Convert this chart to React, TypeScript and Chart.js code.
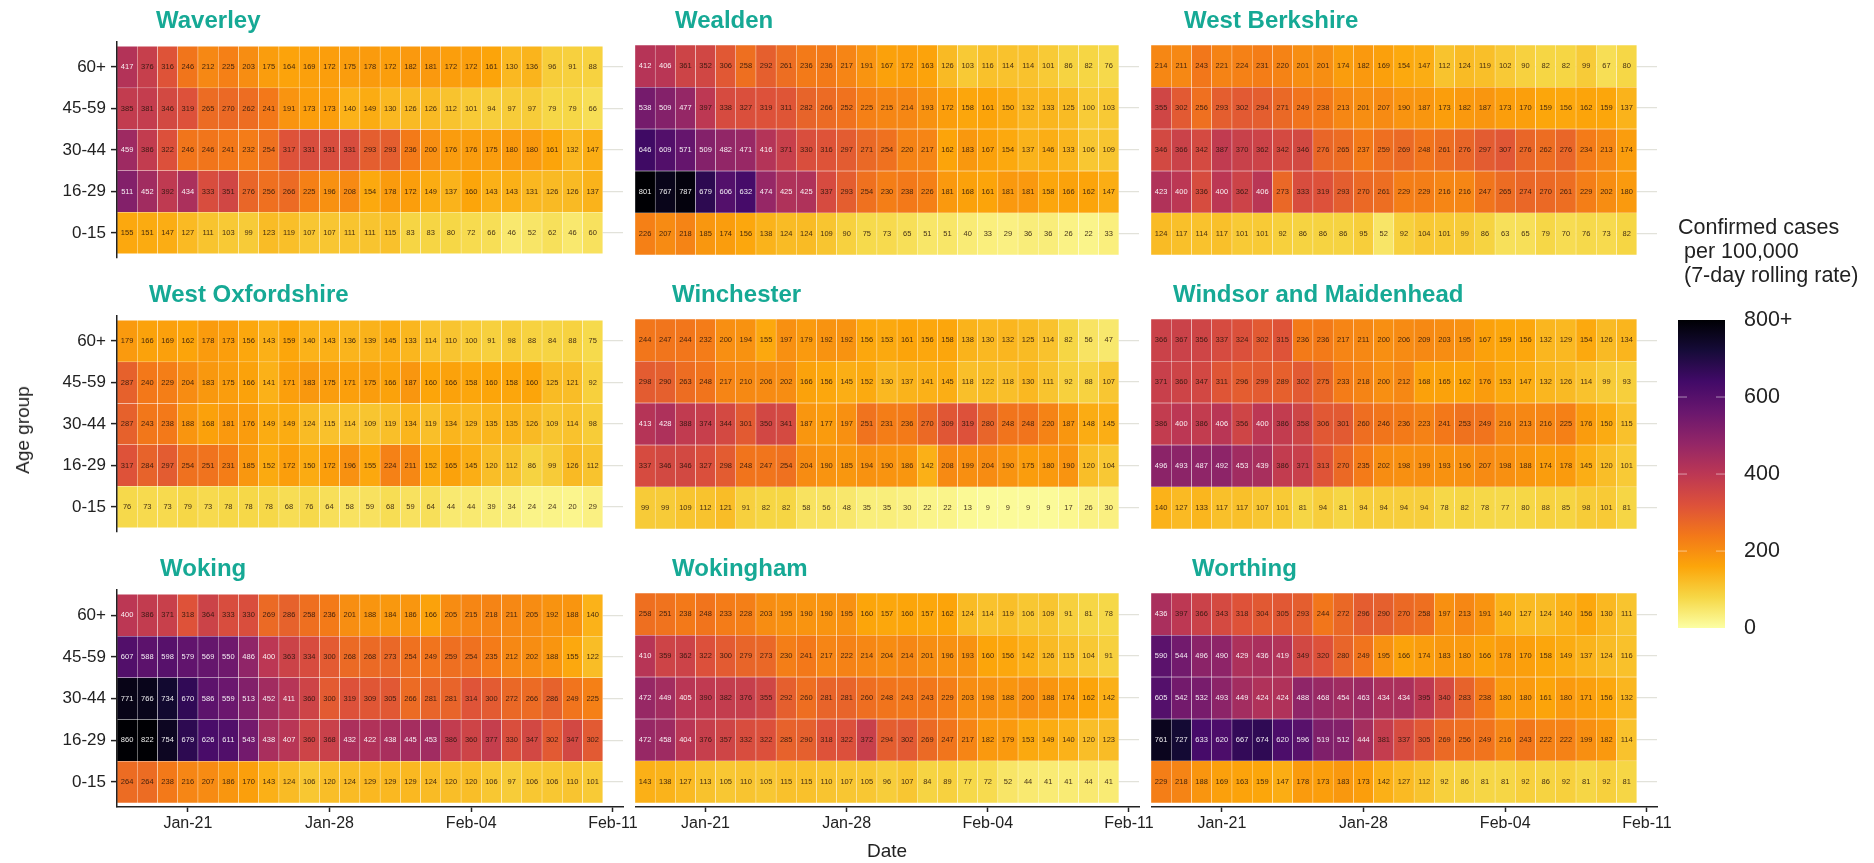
import React, { useEffect, useRef } from "react";
import { Chart, registerables } from "chart.js";

Chart.register(...registerables);

const FONT = "'Liberation Sans', Arial, sans-serif";
Chart.defaults.font.family = FONT;
Chart.defaults.color = "#222222";

const dates = [
  "Jan-18", "Jan-19", "Jan-20", "Jan-21", "Jan-22", "Jan-23", "Jan-24", "Jan-25", "Jan-26",
  "Jan-27", "Jan-28", "Jan-29", "Jan-30", "Jan-31", "Feb-01", "Feb-02", "Feb-03", "Feb-04",
  "Feb-05", "Feb-06", "Feb-07", "Feb-08", "Feb-09", "Feb-10", "Feb-11",
];
const dateTicks = ["Jan-21", "Jan-28", "Feb-04", "Feb-11"];
const ageGroups = ["60+", "45-59", "30-44", "16-29", "0-15"];
const legendTicks = [0, 200, 400, 600, 800];
const legendMarks = [200, 400, 600];
const legendTitle = ["Confirmed cases", " per 100,000", " (7-day rolling rate)"];

const waverley = [
  [417, 376, 316, 246, 212, 225, 203, 175, 164, 169, 172, 175, 178, 172, 182, 181, 172, 172, 161, 130, 136, 96, 91, 88],
  [385, 381, 346, 319, 265, 270, 262, 241, 191, 173, 173, 140, 149, 130, 126, 126, 112, 101, 94, 97, 97, 79, 79, 66],
  [459, 386, 322, 246, 246, 241, 232, 254, 317, 331, 331, 331, 293, 293, 236, 200, 176, 176, 175, 180, 180, 161, 132, 147],
  [511, 452, 392, 434, 333, 351, 276, 256, 266, 225, 196, 208, 154, 178, 172, 149, 137, 160, 143, 143, 131, 126, 126, 137],
  [155, 151, 147, 127, 111, 103, 99, 123, 119, 107, 107, 111, 111, 115, 83, 83, 80, 72, 66, 46, 52, 62, 46, 60],
];
const wealden = [
  [412, 406, 361, 352, 306, 258, 292, 261, 236, 236, 217, 191, 167, 172, 163, 126, 103, 116, 114, 114, 101, 86, 82, 76],
  [538, 509, 477, 397, 338, 327, 319, 311, 282, 266, 252, 225, 215, 214, 193, 172, 158, 161, 150, 132, 133, 125, 100, 103],
  [646, 609, 571, 509, 482, 471, 416, 371, 330, 316, 297, 271, 254, 220, 217, 162, 183, 167, 154, 137, 146, 133, 106, 109],
  [801, 767, 787, 679, 606, 632, 474, 425, 425, 337, 293, 254, 230, 238, 226, 181, 168, 161, 181, 181, 158, 166, 162, 147],
  [226, 207, 218, 185, 174, 156, 138, 124, 124, 109, 90, 75, 73, 65, 51, 51, 40, 33, 29, 36, 36, 26, 22, 33],
];
const westBerkshire = [
  [214, 211, 243, 221, 224, 231, 220, 201, 201, 174, 182, 169, 154, 147, 112, 124, 119, 102, 90, 82, 82, 99, 67, 80],
  [355, 302, 256, 293, 302, 294, 271, 249, 238, 213, 201, 207, 190, 187, 173, 182, 187, 173, 170, 159, 156, 162, 159, 137],
  [346, 366, 342, 387, 370, 362, 342, 346, 276, 265, 237, 259, 269, 248, 261, 276, 297, 307, 276, 262, 276, 234, 213, 174],
  [423, 400, 336, 400, 362, 406, 273, 333, 319, 293, 270, 261, 229, 229, 216, 216, 247, 265, 274, 270, 261, 229, 202, 180],
  [124, 117, 114, 117, 101, 101, 92, 86, 86, 86, 95, 52, 92, 104, 101, 99, 86, 63, 65, 79, 70, 76, 73, 82],
];
const westOxfordshire = [
  [179, 166, 169, 162, 178, 173, 156, 143, 159, 140, 143, 136, 139, 145, 133, 114, 110, 100, 91, 98, 88, 84, 88, 75],
  [287, 240, 229, 204, 183, 175, 166, 141, 171, 183, 175, 171, 175, 166, 187, 160, 166, 158, 160, 158, 160, 125, 121, 92],
  [287, 243, 238, 188, 168, 181, 176, 149, 149, 124, 115, 114, 109, 119, 134, 119, 134, 129, 135, 135, 126, 109, 114, 98],
  [317, 284, 297, 254, 251, 231, 185, 152, 172, 150, 172, 196, 155, 224, 211, 152, 165, 145, 120, 112, 86, 99, 126, 112],
  [76, 73, 73, 79, 73, 78, 78, 78, 68, 76, 64, 58, 59, 68, 59, 64, 44, 44, 39, 34, 24, 24, 20, 29],
];
const winchester = [
  [244, 247, 244, 232, 200, 194, 155, 197, 179, 192, 192, 156, 153, 161, 156, 158, 138, 130, 132, 125, 114, 82, 56, 47],
  [298, 290, 263, 248, 217, 210, 206, 202, 166, 156, 145, 152, 130, 137, 141, 145, 118, 122, 118, 130, 111, 92, 88, 107],
  [413, 428, 388, 374, 344, 301, 350, 341, 187, 177, 197, 251, 231, 236, 270, 309, 319, 280, 248, 248, 220, 187, 148, 145],
  [337, 346, 346, 327, 298, 248, 247, 254, 204, 190, 185, 194, 190, 186, 142, 208, 199, 204, 190, 175, 180, 190, 120, 104],
  [99, 99, 109, 112, 121, 91, 82, 82, 58, 56, 48, 35, 35, 30, 22, 22, 13, 9, 9, 9, 9, 17, 26, 30],
];
const windsorAndMaidenhead = [
  [366, 367, 356, 337, 324, 302, 315, 236, 236, 217, 211, 200, 206, 209, 203, 195, 167, 159, 156, 132, 129, 154, 126, 134],
  [371, 360, 347, 311, 296, 299, 289, 302, 275, 233, 218, 200, 212, 168, 165, 162, 176, 153, 147, 132, 126, 114, 99, 93],
  [386, 400, 386, 406, 356, 400, 386, 358, 306, 301, 260, 246, 236, 223, 241, 253, 249, 216, 213, 216, 225, 176, 150, 115],
  [496, 493, 487, 492, 453, 439, 386, 371, 313, 270, 235, 202, 198, 199, 193, 196, 207, 198, 188, 174, 178, 145, 120, 101],
  [140, 127, 133, 117, 117, 107, 101, 81, 94, 81, 94, 94, 94, 94, 78, 82, 78, 77, 80, 88, 85, 98, 101, 81],
];
const woking = [
  [400, 386, 371, 318, 364, 333, 330, 269, 286, 258, 236, 201, 188, 184, 186, 166, 205, 215, 218, 211, 205, 192, 188, 140],
  [607, 588, 598, 579, 569, 550, 486, 400, 363, 334, 300, 268, 268, 273, 254, 249, 259, 254, 235, 212, 202, 188, 155, 122],
  [771, 766, 734, 670, 586, 559, 513, 452, 411, 360, 300, 319, 309, 305, 266, 281, 281, 314, 300, 272, 266, 286, 249, 225],
  [860, 822, 754, 679, 626, 611, 543, 438, 407, 360, 368, 432, 422, 438, 445, 453, 386, 360, 377, 330, 347, 302, 347, 302],
  [264, 264, 238, 216, 207, 186, 170, 143, 124, 106, 120, 124, 129, 129, 129, 124, 120, 120, 106, 97, 106, 106, 110, 101],
];
const wokingham = [
  [258, 251, 238, 248, 233, 228, 203, 195, 190, 190, 195, 160, 157, 160, 157, 162, 124, 114, 119, 106, 109, 91, 81, 78],
  [410, 359, 362, 322, 300, 279, 273, 230, 241, 217, 222, 214, 204, 214, 201, 196, 193, 160, 156, 142, 126, 115, 104, 91],
  [472, 449, 405, 390, 382, 376, 355, 292, 260, 281, 281, 260, 248, 243, 243, 229, 203, 198, 188, 200, 188, 174, 162, 142],
  [472, 458, 404, 376, 357, 332, 322, 285, 290, 318, 322, 372, 294, 302, 269, 247, 217, 182, 179, 153, 149, 140, 120, 123],
  [143, 138, 127, 113, 105, 110, 105, 115, 115, 110, 107, 105, 96, 107, 84, 89, 77, 72, 52, 44, 41, 41, 44, 41],
];
const worthing = [
  [436, 397, 366, 343, 318, 304, 305, 293, 244, 272, 296, 290, 270, 258, 197, 213, 191, 140, 127, 124, 140, 156, 130, 111],
  [590, 544, 496, 490, 429, 436, 419, 349, 320, 280, 249, 195, 166, 174, 183, 180, 166, 178, 170, 158, 149, 137, 124, 116],
  [605, 542, 532, 493, 449, 424, 424, 488, 468, 454, 463, 434, 434, 395, 340, 283, 238, 180, 180, 161, 180, 171, 156, 132],
  [761, 727, 633, 620, 667, 674, 620, 596, 519, 512, 444, 381, 337, 305, 269, 256, 249, 216, 243, 222, 222, 199, 182, 114],
  [229, 218, 188, 169, 163, 159, 147, 178, 173, 183, 173, 142, 127, 112, 92, 86, 81, 81, 92, 86, 92, 81, 92, 81],
];

// inferno colour map, sampled every 10%, from value 800+ (black) down to 0 (pale yellow)
const inferno = [
  "#000004", "#160b39", "#420a68", "#6a176e", "#932667", "#bc3754",
  "#dd513a", "#f37819", "#fca50a", "#f6d746", "#fcffa4",
];

function hexRgb(h: string) {
  return [1, 3, 5].map((i) => parseInt(h.slice(i, i + 2), 16));
}
function colorFor(v: number) {
  const t = 1 - Math.min(Math.max(v, 0), 800) / 800;
  const p = t * (inferno.length - 1);
  const i = Math.min(Math.floor(p), inferno.length - 2);
  const a = hexRgb(inferno[i]);
  const b = hexRgb(inferno[i + 1]);
  const f = p - i;
  const c = a.map((x, k) => Math.round(x + (b[k] - x) * f));
  return `rgb(${c[0]},${c[1]},${c[2]})`;
}

const cellTextPlugin = {
  id: "cellText",
  afterDatasetsDraw(chart: any) {
    const ctx = chart.ctx;
    ctx.save();
    ctx.font = `7.5px ${FONT}`;
    ctx.textAlign = "center";
    ctx.textBaseline = "middle";
    chart.data.datasets.forEach((ds: any, di: number) => {
      chart.getDatasetMeta(di).data.forEach((el: any, i: number) => {
        const v = ds.values[i];
        const p = el.getProps(["x", "y", "base"], true);
        ctx.fillStyle = v >= 400 ? "rgba(255,255,255,0.92)" : "rgba(40,20,10,0.88)";
        ctx.fillText(String(v), p.x, (p.y + p.base) / 2);
      });
    });
    ctx.restore();
  },
};

type PanelProps = {
  rows: number[][];
  left: number;
  top: number;
  width: number;
  showY: boolean;
  showX: boolean;
  xTitle?: string;
};

const AREA_H = 218;
const Y_W = 117;
const X_H = 56;
const PAD_T = 14;
const PAD_R = 34;

function Panel({ rows, left, top, width, showY, showX, xTitle }: PanelProps) {
  const ref = useRef<HTMLCanvasElement>(null);
  const yw = showY ? Y_W : 0;
  const xh = showX ? X_H : 0;
  const padB = showX ? 1 : 14;
  const cw = yw + width + PAD_R;
  const ch = PAD_T + AREA_H + xh + padB;
  useEffect(() => {
    const chart = new Chart(ref.current as HTMLCanvasElement, {
      type: "bar",
      data: {
        labels: dates,
        datasets: rows.map((vals, r) => ({
          label: ageGroups[r],
          values: vals,
          data: vals.map(() => [r, r + 1]),
          backgroundColor: vals.map(colorFor),
          borderColor: "rgba(255,255,255,0.6)",
          borderWidth: 0.5,
          borderSkipped: false,
          grouped: false,
          barPercentage: 1,
          categoryPercentage: 1,
        })) as any,
      },
      plugins: [cellTextPlugin],
      options: {
        animation: false,
        responsive: false,
        events: [],
        layout: { padding: { top: PAD_T, right: PAD_R, bottom: padB, left: 0 } },
        plugins: { legend: { display: false }, tooltip: { enabled: false }, title: { display: false } },
        scales: {
          x: {
            type: "category",
            display: showX,
            offset: true,
            afterBuildTicks: (s: any) => {
              s.ticks = s.ticks.filter((t: any) => dateTicks.includes(dates[t.value]));
            },
            afterFit: (s: any) => {
              s.height = xh;
            },
            grid: { display: true, drawOnChartArea: false, drawTicks: true, tickLength: 5, offset: false, tickColor: "#222222", tickWidth: 1.5 },
            border: { display: true, color: "#222222", width: 1.5, z: 1 },
            ticks: { autoSkip: false, maxRotation: 0, minRotation: 0, padding: 2, color: "#222222", font: { size: 16 } },
            title: { display: !!xTitle, text: xTitle, color: "#222222", font: { size: 19 }, padding: 0 },
          },
          y: {
            type: "linear",
            reverse: true,
            min: -0.1,
            max: 5.1,
            afterBuildTicks: (s: any) => {
              s.ticks = ageGroups.map((_, i) => ({ value: i + 0.5 }));
            },
            afterFit: (s: any) => {
              s.width = yw;
            },
            grid: {
              display: true,
              color: "#e2e2da",
              lineWidth: 1.2,
              drawTicks: showY,
              tickLength: 6,
              tickColor: "#222222",
              tickWidth: 1.5,
            },
            border: { display: showY, color: "#222222", width: 1.5, z: 1 },
            ticks: {
              display: showY,
              padding: 5,
              color: "#222222",
              font: { size: 17 },
              callback: (v: any) => ageGroups[Number(v) - 0.5],
            },
          },
        },
      } as any,
    });
    return () => chart.destroy();
  }, []);
  return (
    <canvas
      ref={ref}
      width={cw}
      height={ch}
      style={{ position: "absolute", left: left - yw, top: top - PAD_T, width: cw, height: ch }}
    />
  );
}

const legendMarksPlugin = {
  id: "legendMarks",
  afterDatasetsDraw(chart: any) {
    const { ctx, chartArea, scales } = chart;
    ctx.save();
    ctx.strokeStyle = "rgba(255,255,255,0.5)";
    ctx.lineWidth = 1;
    legendMarks.forEach((v) => {
      const y = scales.y.getPixelForValue(v);
      ctx.beginPath();
      ctx.moveTo(chartArea.left, y);
      ctx.lineTo(chartArea.left + 9, y);
      ctx.moveTo(chartArea.right - 9, y);
      ctx.lineTo(chartArea.right, y);
      ctx.stroke();
    });
    ctx.restore();
  },
};

function ColorBar() {
  const ref = useRef<HTMLCanvasElement>(null);
  useEffect(() => {
    const chart = new Chart(ref.current as HTMLCanvasElement, {
      type: "bar",
      data: {
        labels: ["rate"],
        datasets: [
          {
            data: [[0, 800]],
            barPercentage: 1,
            categoryPercentage: 1,
            borderWidth: 0,
            backgroundColor: (c: any) => {
              const area = c.chart.chartArea;
              if (!area) return "#000";
              const g = c.chart.ctx.createLinearGradient(0, area.top, 0, area.bottom);
              inferno.forEach((col, i) => g.addColorStop(i / (inferno.length - 1), col));
              return g;
            },
          },
        ] as any,
      },
      plugins: [legendMarksPlugin],
      options: {
        animation: false,
        responsive: false,
        events: [],
        layout: { padding: { top: 0, left: 0, right: 0, bottom: 20 } },
        plugins: {
          legend: { display: false },
          tooltip: { enabled: false },
          title: {
            display: true,
            text: legendTitle,
            align: "start",
            color: "#222222",
            font: { size: 21.5, weight: "normal", lineHeight: 24 / 21.5 },
            padding: { top: 0, bottom: 32 },
          },
        },
        scales: {
          x: { display: false },
          y: {
            position: "right",
            min: 0,
            max: 800,
            afterBuildTicks: (s: any) => {
              s.ticks = legendTicks.map((value) => ({ value }));
            },
            afterFit: (s: any) => {
              s.width = 149;
            },
            grid: { display: false },
            border: { display: false },
            ticks: {
              padding: 11,
              color: "#222222",
              font: { size: 21.5 },
              callback: (v: any) => (Number(v) === 800 ? "800+" : String(v)),
            },
          },
        },
      } as any,
    });
    return () => chart.destroy();
  }, []);
  return (
    <canvas
      ref={ref}
      width={196}
      height={436}
      style={{ position: "absolute", left: 1678, top: 216, width: 196, height: 436 }}
    />
  );
}

const teal = "#16a995";
const colLeft = [117, 635, 1151];
const colWidth = [506, 504, 506];
const rowTop = [41, 315, 589];

const panels = [
  { name: "Waverley", rows: waverley, titleX: 156, titleY: 6 },
  { name: "Wealden", rows: wealden, titleX: 675, titleY: 6 },
  { name: "West Berkshire", rows: westBerkshire, titleX: 1184, titleY: 6 },
  { name: "West Oxfordshire", rows: westOxfordshire, titleX: 149, titleY: 280 },
  { name: "Winchester", rows: winchester, titleX: 672, titleY: 280 },
  { name: "Windsor and Maidenhead", rows: windsorAndMaidenhead, titleX: 1173, titleY: 280 },
  { name: "Woking", rows: woking, titleX: 160, titleY: 554 },
  { name: "Wokingham", rows: wokingham, titleX: 672, titleY: 554 },
  { name: "Worthing", rows: worthing, titleX: 1192, titleY: 554 },
];

export default function App() {
  return (
    <div style={{ position: "absolute", left: 0, top: 0, width: 1874, height: 863, overflow: "hidden", background: "#fff", fontFamily: FONT }}>
      {panels.map((p, i) => {
        const c = i % 3;
        const r = Math.floor(i / 3);
        return (
          <React.Fragment key={p.name}>
            <Panel
              rows={p.rows}
              left={colLeft[c]}
              top={rowTop[r]}
              width={colWidth[c]}
              showY={c === 0}
              showX={r === 2}
              xTitle={i === 7 ? "Date" : undefined}
            />
            <div
              style={{
                position: "absolute",
                left: p.titleX,
                top: p.titleY,
                font: `bold 24px/28px ${FONT}`,
                color: teal,
                whiteSpace: "nowrap",
              }}
            >
              {p.name}
            </div>
          </React.Fragment>
        );
      })}
      <div
        style={{
          position: "absolute",
          left: 23,
          top: 430,
          transform: "translate(-50%,-50%) rotate(-90deg)",
          font: `19px/22px ${FONT}`,
          color: "#222",
          whiteSpace: "nowrap",
        }}
      >
        Age group
      </div>
      <ColorBar />
    </div>
  );
}
